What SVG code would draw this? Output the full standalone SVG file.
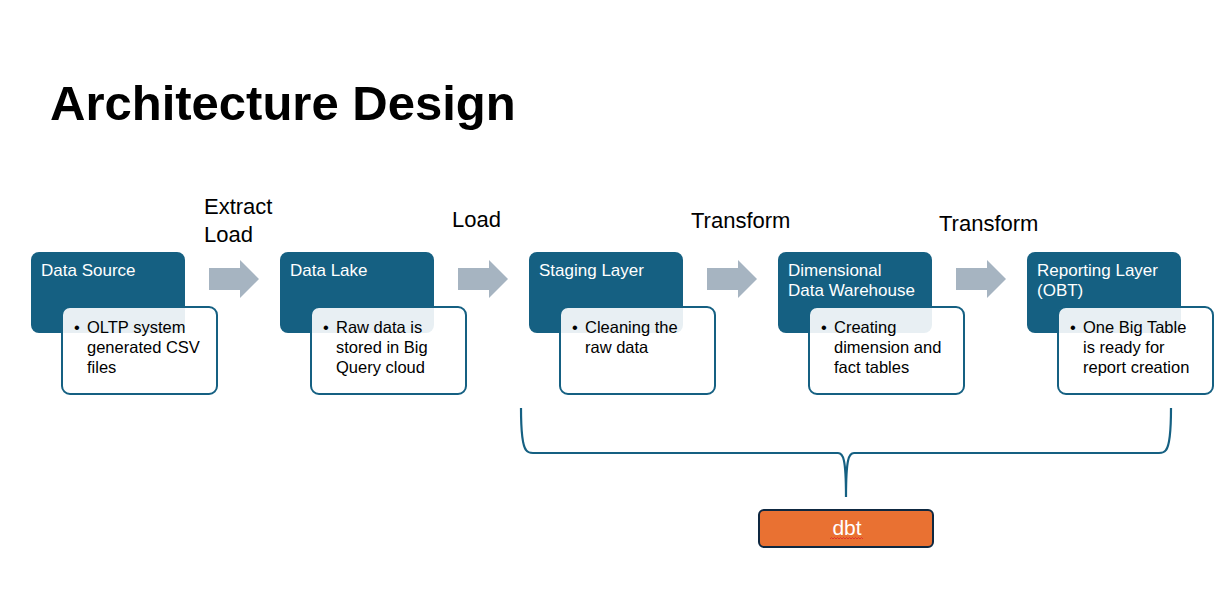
<svg xmlns="http://www.w3.org/2000/svg" width="1221" height="616" viewBox="0 0 1221 616">
<style>
.t{font-family:"Liberation Sans",Arial,sans-serif}
.title{font-size:49px;font-weight:bold;fill:#000}
.lbl{font-size:22px;fill:#000}
.hd{fill:#156082}
.hdt{font-size:17px;fill:#fff}
.sub{fill:#fff;fill-opacity:0.9;stroke:#156082;stroke-width:2}
.st{font-size:16.5px;fill:#000}
.arr{fill:#A6B4C1}
</style>
<defs>
<polygon id="ar" points="0,-11 31,-11 31,-19 50,0 31,19 31,11 0,11"/>
</defs>
<rect width="1221" height="616" fill="#fff"/>
<text class="t title" x="50" y="120">Architecture Design</text>
<g id="labels" class="t lbl">
<text x="204" y="214">Extract</text>
<text x="204" y="242">Load</text>
<text x="452" y="227">Load</text>
<text x="691" y="228">Transform</text>
<text x="939" y="231">Transform</text>
</g>
<g id="connectors">
<use href="#ar" class="arr" x="209" y="279"/>
<use href="#ar" class="arr" x="458" y="279"/>
<use href="#ar" class="arr" x="707" y="279"/>
<use href="#ar" class="arr" x="956" y="279"/>
<path d="M521,408 C521,430 522,445 526,450 Q528,453 533,453 L838,453 C843,453 846,458 846,497 C846,458 849,453 854,453 L1159,453 Q1164,453 1166,450 C1170,445 1171,430 1171,408" fill="none" stroke="#156082" stroke-width="2.2"/>
</g>
<g id="n1">
<rect class="hd" x="31" y="252" width="154" height="81" rx="8"/>
<text class="t hdt" x="41" y="276">Data Source</text>
<rect class="sub" x="62" y="307" width="155" height="87" rx="8"/>
<g class="t st"><text x="74" y="333">•</text><text x="87" y="333">OLTP system</text><text x="87" y="353">generated CSV</text><text x="87" y="373">files</text></g>
</g>
<g id="n2">
<rect class="hd" x="280" y="252" width="154" height="81" rx="8"/>
<text class="t hdt" x="290" y="276">Data Lake</text>
<rect class="sub" x="311" y="307" width="155" height="87" rx="8"/>
<g class="t st"><text x="323" y="333">•</text><text x="336" y="333">Raw data is</text><text x="336" y="353">stored in Big</text><text x="336" y="373">Query cloud</text></g>
</g>
<g id="n3">
<rect class="hd" x="529" y="252" width="154" height="81" rx="8"/>
<text class="t hdt" x="539" y="276">Staging Layer</text>
<rect class="sub" x="560" y="307" width="155" height="87" rx="8"/>
<g class="t st"><text x="572" y="333">•</text><text x="585" y="333">Cleaning the</text><text x="585" y="353">raw data</text></g>
</g>
<g id="n4">
<rect class="hd" x="778" y="252" width="154" height="81" rx="8"/>
<text class="t hdt" x="788" y="276">Dimensional</text>
<text class="t hdt" x="788" y="296">Data Warehouse</text>
<rect class="sub" x="809" y="307" width="155" height="87" rx="8"/>
<g class="t st"><text x="821" y="333">•</text><text x="834" y="333">Creating</text><text x="834" y="353">dimension and</text><text x="834" y="373">fact tables</text></g>
</g>
<g id="n5">
<rect class="hd" x="1027" y="252" width="154" height="81" rx="8"/>
<text class="t hdt" x="1037" y="276">Reporting Layer</text>
<text class="t hdt" x="1037" y="296">(OBT)</text>
<rect class="sub" x="1058" y="307" width="155" height="87" rx="8"/>
<g class="t st"><text x="1070" y="333">•</text><text x="1083" y="333">One Big Table</text><text x="1083" y="353">is ready for</text><text x="1083" y="373">report creation</text></g>
</g>
<g id="dbt">
<rect x="759" y="510" width="174" height="37" rx="5" fill="#E97132" stroke="#0E2841" stroke-width="2"/>
<text class="t" x="847" y="535" text-anchor="middle" font-size="21" fill="#fff">dbt</text>
<path d="M830,539 l1.5,-1.5 1.5,1.5 1.5,-1.5 1.5,1.5 1.5,-1.5 1.5,1.5 1.5,-1.5 1.5,1.5 1.5,-1.5 1.5,1.5 1.5,-1.5 1.5,1.5 1.5,-1.5 1.5,1.5 1.5,-1.5 1.5,1.5 1.5,-1.5 1.5,1.5 1.5,-1.5 1.5,1.5 1.5,-1.5 1.5,1.5" fill="none" stroke="#E0302A" stroke-width="0.9"/>
</g>
</svg>
